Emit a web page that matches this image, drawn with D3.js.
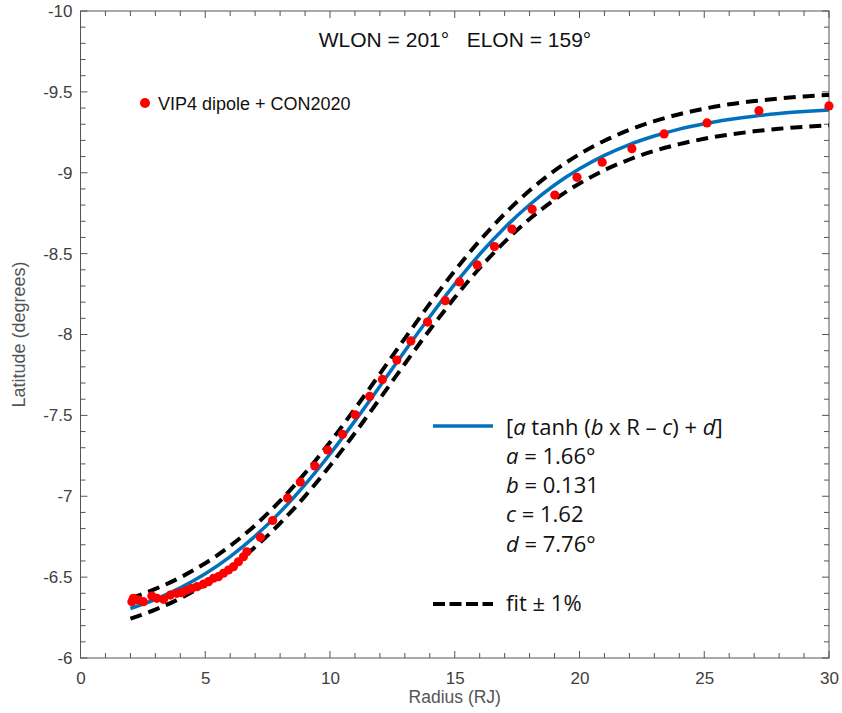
<!DOCTYPE html>
<html><head><meta charset="utf-8">
<script src="https://cdn.jsdelivr.net/npm/d3@7/dist/d3.min.js"></script>
<style>body{margin:0;background:#fff}svg{display:block}</style>
</head><body>
<svg id="chart" width="842" height="713"></svg>
<script>
// ---- data ----
const dotR = [2.06,2.12,2.32,2.52,2.86,3.06,3.33,3.60,3.86,4.06,4.26,4.46,4.67,4.93,5.13,5.33,5.53,5.73,5.93,6.13,6.33,6.53,6.67,
  7.21,7.70,8.30,8.81,9.39,9.90,10.50,11.01,11.59,12.10,12.68,13.24,13.91,14.62,15.19,15.90,16.59,17.29,18.10,19.01,19.90,20.91,22.10,23.39,25.11,27.19,30.0];
const dotLat = [-6.348,-6.369,-6.359,-6.348,-6.383,-6.369,-6.363,-6.389,-6.400,-6.404,-6.420,-6.431,-6.441,-6.457,-6.472,-6.493,-6.503,-6.524,-6.544,-6.564,-6.595,-6.626,-6.657,
  -6.746,-6.850,-6.989,-7.088,-7.187,-7.286,-7.383,-7.504,-7.617,-7.722,-7.842,-7.960,-8.077,-8.209,-8.325,-8.430,-8.544,-8.652,-8.774,-8.862,-8.972,-9.065,-9.149,-9.240,-9.308,-9.384,-9.413];
const fitR = [2,3,4,5,6,7,8,9,10,11,12,13,14,15,16,17,18,19,20,21,22,23,24,25,26,27,28,29,30];
const fitLat = [-6.306,-6.363,-6.434,-6.521,-6.627,-6.754,-6.902,-7.072,-7.261,-7.466,-7.680,-7.898,-8.110,-8.311,-8.496,-8.660,-8.802,-8.924,-9.024,-9.107,-9.174,-9.227,-9.270,-9.303,-9.329,-9.350,-9.366,-9.378,-9.388];
const fitUpper = [-6.369,-6.427,-6.498,-6.586,-6.693,-6.821,-6.971,-7.143,-7.334,-7.541,-7.757,-7.976,-8.191,-8.394,-8.580,-8.746,-8.890,-9.013,-9.115,-9.198,-9.265,-9.319,-9.362,-9.396,-9.423,-9.443,-9.459,-9.472,-9.481];
const fitLower = [-6.243,-6.299,-6.369,-6.456,-6.560,-6.686,-6.833,-7.001,-7.189,-7.391,-7.604,-7.819,-8.029,-8.228,-8.411,-8.573,-8.714,-8.834,-8.934,-9.016,-9.082,-9.135,-9.177,-9.210,-9.236,-9.256,-9.272,-9.284,-9.294];
const xTickLabels = ["0","5","10","15","20","25","30"];
const yTickLabels = ["-10","-9.5","-9","-8.5","-8","-7.5","-7","-6.5","-6"];
const titleText = "WLON = 201°   ELON = 159°";
const seriesName = "VIP4 dipole + CON2020";
const fitParams = [["a","1.66°"],["b","0.131"],["c","1.62"],["d","7.76°"]];

// ---- layout ----
const svg = d3.select("#chart");
const L = 80.5, R = 829, T = 11, B = 658;
const x = d3.scaleLinear().domain([0,30]).range([L,R]);
const y = d3.scaleLinear().domain([-10,-6]).range([T,B]);
const axisCol = "#555";
const labFont = "'Liberation Sans', Arial, Helvetica, sans-serif";

// minor/major ticks
const xMinor = d3.range(0,31,1), yMinor = d3.range(0,41,1).map(i=>-10+i*0.1);
const g = svg.append("g").attr("stroke", axisCol).attr("stroke-width",1);
xMinor.forEach((v,i)=>{
  const len = i%5===0 ? 7 : 5;
  g.append("line").attr("x1",x(v)).attr("x2",x(v)).attr("y1",B).attr("y2",B-len);
  g.append("line").attr("x1",x(v)).attr("x2",x(v)).attr("y1",T).attr("y2",T+len);
});
yMinor.forEach((v,i)=>{
  const len = i%5===0 ? 7 : 5;
  g.append("line").attr("y1",y(v)).attr("y2",y(v)).attr("x1",L).attr("x2",L+len);
  g.append("line").attr("y1",y(v)).attr("y2",y(v)).attr("x1",R).attr("x2",R-len);
});
g.append("rect").attr("x",L).attr("y",T).attr("width",R-L).attr("height",B-T).attr("fill","none");

// tick labels via axes
const xAxis = d3.axisBottom(x).tickValues(d3.range(0,31,5)).tickSize(0).tickPadding(14)
  .tickFormat((d,i)=>xTickLabels[i]);
svg.append("g").attr("transform",`translate(0,${B})`).call(xAxis)
  .call(s=>s.select(".domain").remove())
  .selectAll("text").attr("font-family",labFont).attr("font-size",17).attr("fill","#404040");
const yAxis = d3.axisLeft(y).tickValues(d3.range(0,9).map(i=>-10+i*0.5)).tickSize(0).tickPadding(8)
  .tickFormat((d,i)=>yTickLabels[i]);
svg.append("g").attr("transform",`translate(${L},0)`).call(yAxis)
  .call(s=>s.select(".domain").remove())
  .selectAll("text").attr("font-family",labFont).attr("font-size",17).attr("fill","#404040");

// axis titles
svg.append("text").attr("x",(L+R)/2).attr("y",703).attr("text-anchor","middle")
  .attr("font-family",labFont).attr("font-size",17.5).attr("fill","#555").text("Radius (RJ)");
svg.append("text").attr("transform",`translate(25,${(T+B)/2}) rotate(-90)`).attr("text-anchor","middle")
  .attr("font-family",labFont).attr("font-size",18).attr("fill","#555").text("Latitude (degrees)");

// curves
const line = d3.line().curve(d3.curveMonotoneX);
const plot = svg.append("g");
const mk = arr => fitR.map((r,i)=>[x(r), y(arr[i])]);
plot.append("path").attr("d", line(mk(fitUpper))).attr("fill","none").attr("stroke","#000")
  .attr("stroke-width",4).attr("stroke-dasharray","12,7");
plot.append("path").attr("d", line(mk(fitLower))).attr("fill","none").attr("stroke","#000")
  .attr("stroke-width",4).attr("stroke-dasharray","12,7");
plot.append("path").attr("d", line(mk(fitLat))).attr("fill","none").attr("stroke","#0072BD")
  .attr("stroke-width",3.5);
plot.selectAll("circle.pt").data(dotR).join("circle").attr("class","pt")
  .attr("cx",d=>x(d)).attr("cy",(d,i)=>y(dotLat[i])).attr("r",4.6).attr("fill","#FF0000");

// title
svg.append("text").attr("x",455).attr("y",47).attr("text-anchor","middle")
  .attr("font-family",labFont).attr("font-size",21).attr("fill","#111")
  .style("white-space","pre").text(titleText);

// series legend
svg.append("circle").attr("cx",145).attr("cy",103).attr("r",5).attr("fill","#FF0000");
svg.append("text").attr("x",158).attr("y",110).attr("font-family",labFont).attr("font-size",18)
  .attr("fill","#111").text(seriesName);

// fit legend
const legFont = "'Open Sans', 'Noto Sans', sans-serif";
svg.append("line").attr("x1",433).attr("x2",493).attr("y1",426).attr("y2",426)
  .attr("stroke","#0072BD").attr("stroke-width",3.5);
const eq = svg.append("text").attr("x",506).attr("y",435).attr("font-family",legFont).attr("font-size",22).attr("fill","#111");
eq.append("tspan").text("[");
eq.append("tspan").attr("font-style","italic").text("a");
eq.append("tspan").text(" tanh (");
eq.append("tspan").attr("font-style","italic").text("b");
eq.append("tspan").text(" x R – ");
eq.append("tspan").attr("font-style","italic").text("c");
eq.append("tspan").text(") + ");
eq.append("tspan").attr("font-style","italic").text("d");
eq.append("tspan").text("]");
fitParams.forEach((p,i)=>{
  const t = svg.append("text").attr("x",506).attr("y",464+i*29.2).attr("font-family",legFont)
    .attr("font-size",22).attr("fill","#111");
  t.append("tspan").attr("font-style","italic").text(p[0]);
  t.append("tspan").text(" = " + p[1]);
});
svg.append("line").attr("x1",433).attr("x2",493).attr("y1",604).attr("y2",604)
  .attr("stroke","#000").attr("stroke-width",4).attr("stroke-dasharray","12,4.5");
svg.append("text").attr("x",506).attr("y",611).attr("font-family",legFont).attr("font-size",22)
  .attr("fill","#111").text("fit ± 1%");
</script>
</body></html>
